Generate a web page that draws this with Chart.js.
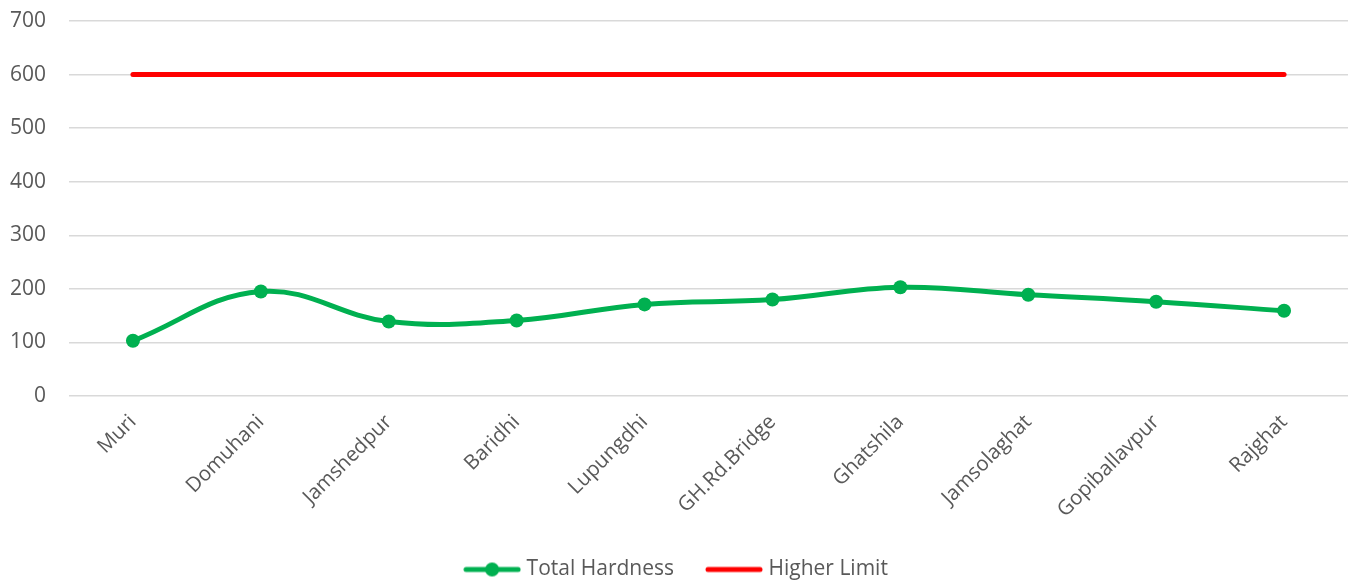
<!DOCTYPE html>
<html>
<head>
<meta charset="utf-8">
<script src="https://cdn.jsdelivr.net/npm/chart.js@4"></script>
<style>
  html, body { margin: 0; padding: 0; background: #fff; }
  #wrap { width: 1356px; height: 580px; }
</style>
</head>
<body>
<div id="wrap"><canvas id="chart" width="1356" height="580"></canvas></div>
<script>
// Datos del gráfico
const categories = ['Muri', 'Domuhani', 'Jamshedpur', 'Baridhi', 'Lupungdhi', 'GH.Rd.Bridge', 'Ghatshila', 'Jamsolaghat', 'Gopiballavpur', 'Rajghat'];
const totalHardness = [103, 195, 139, 141, 171, 180, 203, 189, 176, 159];
const higherLimit = [600, 600, 600, 600, 600, 600, 600, 600, 600, 600];
const yTicks = [0, 100, 200, 300, 400, 500, 600, 700];

const GREEN = '#00B050';
const RED = '#FF0000';
const TEXT = '#595959';
const FONT = "'Open Sans', sans-serif";

// Muestra de leyenda: línea con punto (o sin punto)
const makeLegendSample = (color, withDot) => {
    const c = document.createElement('canvas');
    c.width = 58; c.height = 16;
    const g = c.getContext('2d');
    g.strokeStyle = color;
    g.lineWidth = 5;
    g.lineCap = 'round';
    g.beginPath();
    g.moveTo(3, 8); g.lineTo(55, 8);
    g.stroke();
    if (withDot) {
        g.fillStyle = color;
        g.beginPath();
        g.arc(29, 8, 7, 0, Math.PI * 2);
        g.fill();
    }
    return c;
};
const greenSample = makeLegendSample(GREEN, true);
const redSample = makeLegendSample(RED, false);

const ctx = document.getElementById('chart').getContext('2d');
new Chart(ctx, {
    type: 'line',
    data: {
        labels: categories,
        datasets: [{
            label: 'Total Hardness',
            data: totalHardness,
            borderColor: GREEN,
            backgroundColor: GREEN,
            borderWidth: 5,
            pointRadius: 7,
            pointHoverRadius: 7,
            pointBorderWidth: 0,
            tension: 0.4,
            pointStyle: 'circle',
            legendSample: greenSample
        }, {
            label: 'Higher Limit',
            data: higherLimit,
            borderColor: RED,
            backgroundColor: RED,
            borderWidth: 5,
            borderCapStyle: 'round',
            pointRadius: 0,
            tension: 0,
            legendSample: redSample
        }]
    },
    options: {
        responsive: false,
        animation: false,
        layout: { padding: { left: 8, right: 8, top: 21, bottom: -10 } },
        plugins: {
            legend: {
                position: 'bottom',
                labels: {
                    usePointStyle: true,
                    pointStyleWidth: 48,
                    padding: 36,
                    color: TEXT,
                    font: { family: FONT, size: 21 },
                    generateLabels: (chart) => chart.data.datasets.map((ds, i) => ({
                        text: ds.label,
                        pointStyle: ds.legendSample,
                        fillStyle: ds.borderColor,
                        strokeStyle: ds.borderColor,
                        fontColor: TEXT,
                        lineWidth: 0,
                        hidden: false,
                        datasetIndex: i
                    }))
                }
            },
            tooltip: { enabled: false }
        },
        scales: {
            x: {
                offset: true,
                grid: { display: false },
                border: { display: false },
                afterFit: (axis) => {
                    axis.paddingLeft = 0;
                    axis.paddingRight = 0;
                    axis.height = 127;
                },
                ticks: {
                    color: TEXT,
                    font: { family: FONT, size: 20.5 },
                    minRotation: 45,
                    maxRotation: 45,
                    autoSkip: false,
                    padding: 6
                }
            },
            y: {
                min: 0,
                max: 700,
                grid: { color: '#D9D9D9', lineWidth: 1.5, drawTicks: false },
                border: { display: false },
                afterBuildTicks: (axis) => { axis.ticks = yTicks.map(v => ({ value: v })); },
                afterFit: (axis) => {
                    axis.paddingTop = 0;
                    axis.paddingBottom = 0;
                    axis.width = 61;
                },
                ticks: {
                    color: TEXT,
                    font: { family: FONT, size: 21 },
                    padding: 23
                }
            }
        }
    }
});
</script>
</body>
</html>
